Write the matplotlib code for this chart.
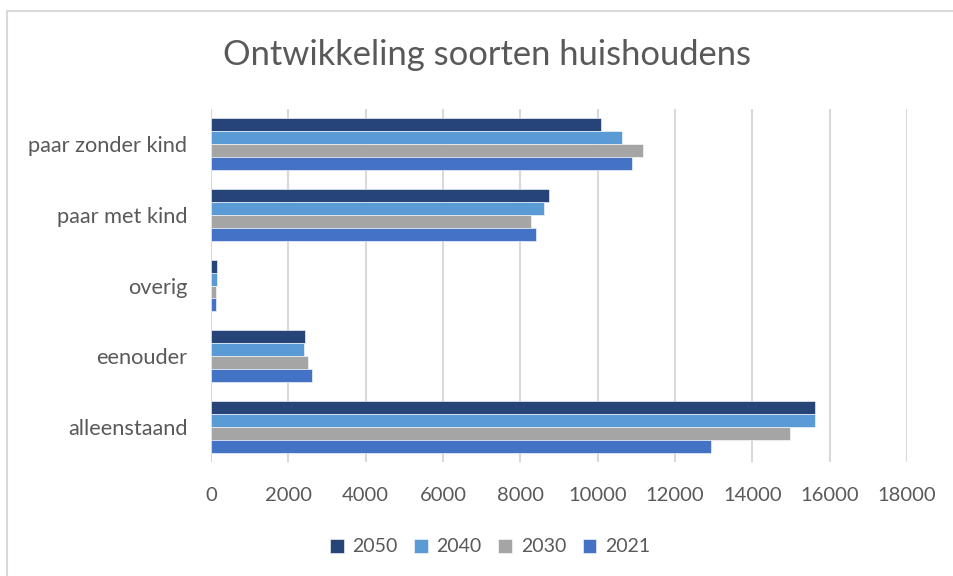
import matplotlib.pyplot as plt
import numpy as np
from matplotlib.patches import Rectangle

categories = ['alleenstaand', 'eenouder', 'overig', 'paar met kind', 'paar zonder kind']
years = ['2050', '2040', '2030', '2021']
values = {
    '2050': [15620, 2420, 165, 8750, 10080],
    '2040': [15610, 2415, 145, 8600, 10630],
    '2030': [14980, 2500, 120, 8270, 11170],
    '2021': [12920, 2600, 135, 8410, 10880],
}
colors = {'2050': '#264478', '2040': '#5b9bd5', '2030': '#a5a5a5', '2021': '#4472c4'}
xticks = np.arange(0, 18001, 2000)

plt.rcParams['font.family'] = ['Lato', 'DejaVu Sans']
txt_color = '#595959'

fig = plt.figure(figsize=(9.54, 5.76), dpi=100)
ax = fig.add_axes([211 / 954, 1 - 462 / 576, (907 - 211) / 954, (462 - 109) / 576])

# chart border (right/bottom edges are cut off in the reference)
fig.patches.append(Rectangle((7 / 954, -0.1), 1.2, 1 - 11 / 576 + 0.1, transform=fig.transFigure,
                             fill=False, edgecolor='#d9d9d9', linewidth=1.5))

y = np.arange(len(categories))
h = 0.183
for k, yr in enumerate(years):
    offset = (1.5 - k) * h
    ax.barh(y + offset, values[yr], height=h, color=colors[yr], label=yr,
            edgecolor='white', linewidth=0.4, zorder=3)

ax.set_xlim(0, 18000)
ax.set_ylim(-0.5, 4.5)
ax.set_xticks(xticks)
ax.set_xticklabels([str(v) for v in xticks])
ax.set_yticks(y)
ax.set_yticklabels(categories)
ax.grid(axis='x', color='#d9d9d9', linewidth=1.5, zorder=0)
for s in ax.spines.values():
    s.set_visible(False)
ax.tick_params(axis='x', length=0, labelsize=14.5, colors=txt_color, pad=18)
ax.tick_params(axis='y', length=0, labelsize=15.7, colors=txt_color, pad=17)

fig.text(487 / 954, 1 - 55 / 576, 'Ontwikkeling soorten huishoudens', ha='center', va='center',
         fontsize=24.8, color=txt_color)

leg = fig.legend(loc='center', bbox_to_anchor=(490 / 954, 1 - 547 / 576), ncol=4, frameon=False,
                 fontsize=14, handlelength=0.7, handleheight=0.7, handletextpad=0.45, columnspacing=0.85)
for t in leg.get_texts():
    t.set_color(txt_color)

fig.savefig('out.png', dpi=100)
